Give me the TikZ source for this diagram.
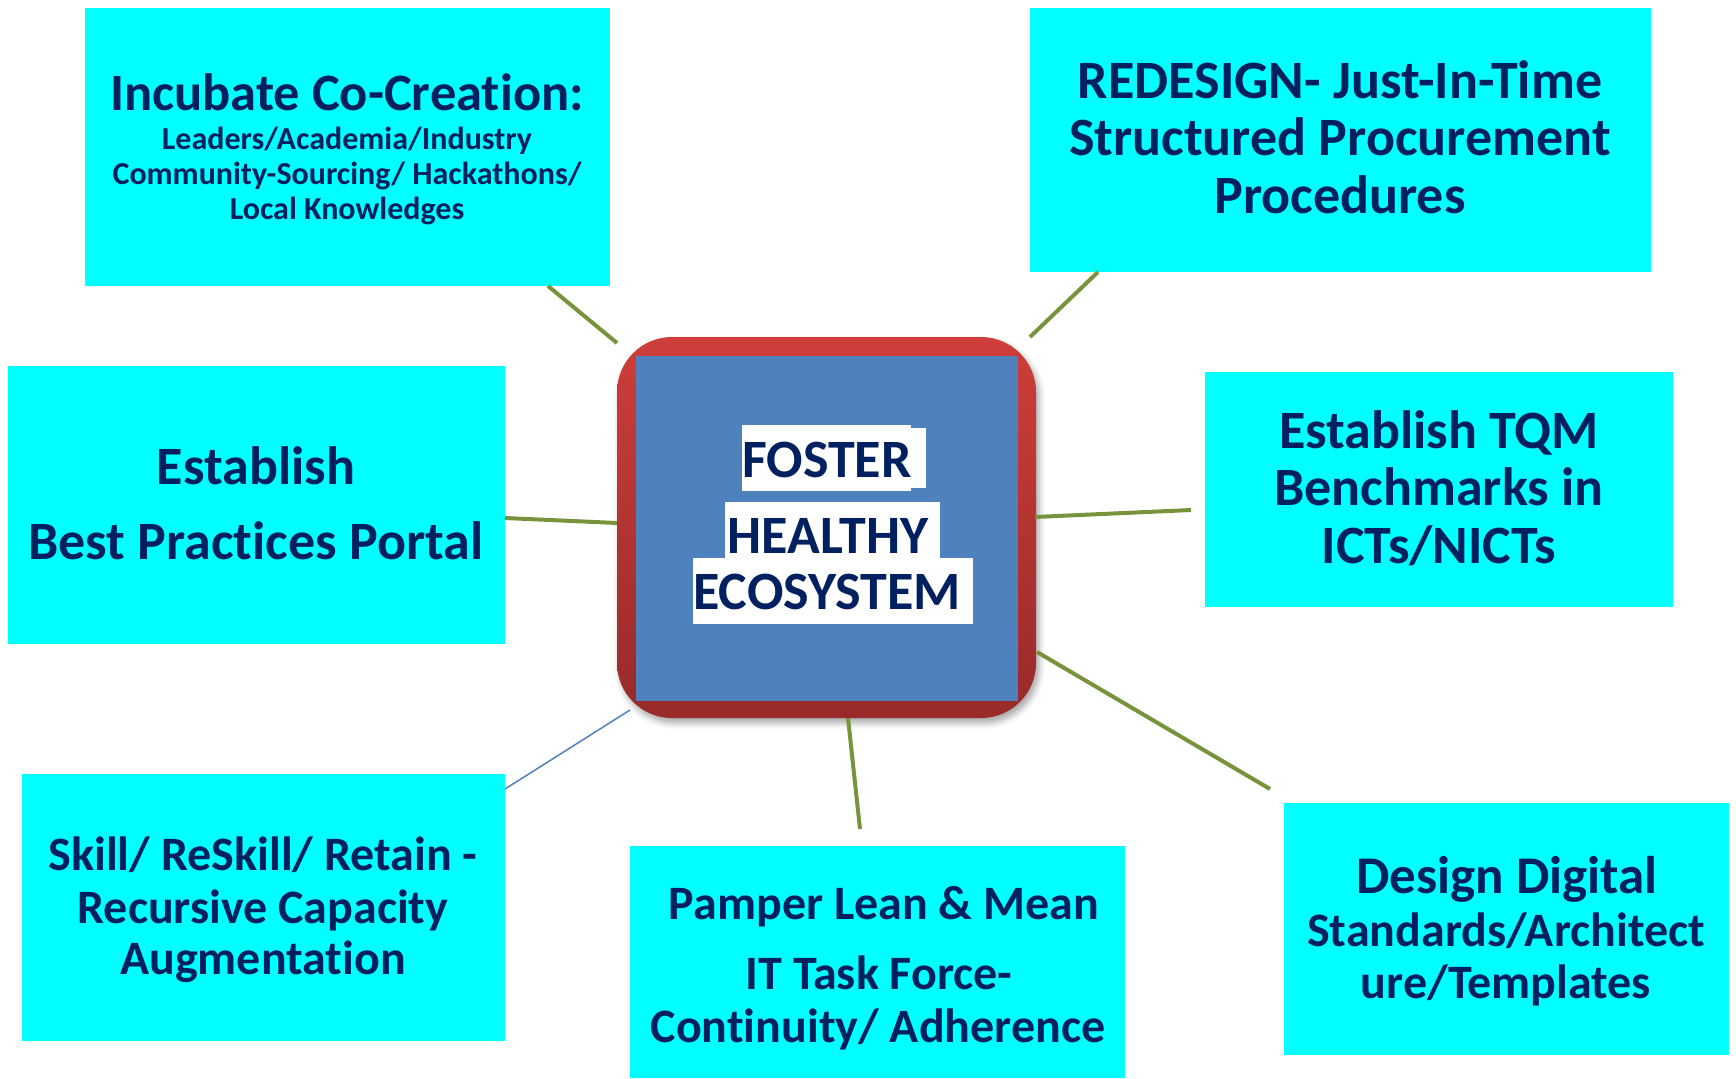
\documentclass[tikz,border=0pt]{standalone}
\usepackage{fontspec}
\setmainfont{Carlito}[Ligatures={NoCommon}]
\usetikzlibrary{shadows.blur}
\definecolor{navy}{HTML}{002060}
\definecolor{aqua}{HTML}{00FFFF}
\definecolor{ggreen}{HTML}{77933C}
\definecolor{sblue}{HTML}{4F81BD}
\definecolor{rtop}{RGB}{206,62,58}
\definecolor{rbot}{RGB}{152,42,42}
\newcommand\fsz[1]{\fontsize{#1}{#1}\selectfont}
\tikzset{
  cbox/.style={fill=aqua, inner sep=0pt, anchor=north west},
  txt/.style={text=navy, inner sep=0pt, anchor=base, font=\bfseries\fsz{54}},
  med/.style={font=\bfseries\fsz{48}},
  small/.style={font=\bfseries\fsz{32}},
  link/.style={draw=ggreen, line width=4pt},
  thinlink/.style={draw=sblue, line width=1.5pt},
  hl/.style={fill=white, inner sep=0pt, anchor=north west}
}
\begin{document}
\begin{tikzpicture}[x=1pt,y=-1pt]
\useasboundingbox (0,0) rectangle (1736,1078);

% outer boxes
\node[cbox, minimum width=525, minimum height=278] (tl) at (85,8) {};
\node[cbox, minimum width=621, minimum height=264] (tr) at (1030,8) {};
\node[cbox, minimum width=497, minimum height=278] (ml) at (8,366) {};
\node[cbox, minimum width=468, minimum height=235] (mr) at (1205,372) {};
\node[cbox, minimum width=483, minimum height=267] (bl) at (22,774) {};
\node[cbox, minimum width=495, minimum height=232] (bm) at (630,846) {};
\node[cbox, minimum width=445, minimum height=252] (br) at (1284,803) {};

% centre
\node[rounded corners=55pt, minimum width=419, minimum height=381, inner sep=0pt,
      top color=rtop, bottom color=rbot,
      blur shadow={shadow xshift=3pt, shadow yshift=-5pt, shadow blur radius=6pt, shadow opacity=35}]
      (c) at (826.5,527.5) {};
\node[fill=sblue, inner sep=0pt, minimum width=382, minimum height=345] (cin) at (827,528.5) {};

\node[hl, minimum width=169, minimum height=66] (hf1) at (742,425) {};
\node[hl, minimum width=184, minimum height=60] (hf2) at (742,428) {};
\node[hl, minimum width=215, minimum height=57] (hh) at (725,502) {};
\node[hl, minimum width=280, minimum height=66] (he) at (693,558) {};
\node[txt] (t1) at (827,477) {FOSTER};
\node[txt] (t2) at (828,553) {HEALTHY};
\node[txt] (t3) at (827,609) {ECOSYSTEM};

% connectors
\coordinate (tl-c) at (548,286);  \coordinate (c-tl) at (617,343);
\coordinate (tr-c) at (1098,272); \coordinate (c-tr) at (1030,337);
\coordinate (ml-c) at (505,518);  \coordinate (c-ml) at (617,523);
\coordinate (mr-c) at (1191,510); \coordinate (c-mr) at (1035,517);
\coordinate (br-c) at (1270,789); \coordinate (c-br) at (1037,652);
\coordinate (bm-c) at (860,829);  \coordinate (c-bm) at (848,718);
\coordinate (bl-c) at (505,789);  \coordinate (c-bl) at (630,710);
\draw[link] (tl-c) -- (c-tl);
\draw[link] (tr-c) -- (c-tr);
\draw[link] (ml-c) -- (c-ml);
\draw[link] (mr-c) -- (c-mr);
\draw[link] (br-c) -- (c-br);
\draw[link] (bm-c) -- (c-bm);
\draw[thinlink] (bl-c) -- (c-bl);

% texts
\node[txt, font=\bfseries\fsz{52.5}] at (347,111) {Incubate Co-Creation:};
\node[txt, small] at (347,150) {Leaders/Academia/Industry};
\node[txt, small] at (347,185) {Community-Sourcing/ Hackathons/};
\node[txt, small] at (347,219) {Local Knowledges};

\node[txt] at (1340,99) {REDESIGN- Just-In-Time};
\node[txt] at (1340,156) {Structured Procurement};
\node[txt] at (1340,213) {Procedures};

\node[txt] at (256,484) {Establish};
\node[txt] at (256,559) {Best Practices Portal};

\node[txt] at (1439,448) {Establish TQM};
\node[txt] at (1439,505) {Benchmarks in};
\node[txt] at (1439,563) {ICTs/NICTs};

\node[txt, med] at (263,870) {Skill/ ReSkill/ Retain -};
\node[txt, med] at (263,923) {Recursive Capacity};
\node[txt, med] at (263,974) {Augmentation};

\node[txt, med] at (884,919) {Pamper Lean \& Mean};
\node[txt, med] at (879,989) {IT Task Force-};
\node[txt, med] at (878,1042) {Continuity/ Adherence};

\node[txt, font=\bfseries\fsz{53}] at (1507,893) {Design Digital};
\node[txt, med] at (1506,946) {Standards/Architect};
\node[txt, med] at (1506,998) {ure/Templates};
\end{tikzpicture}
\end{document}
